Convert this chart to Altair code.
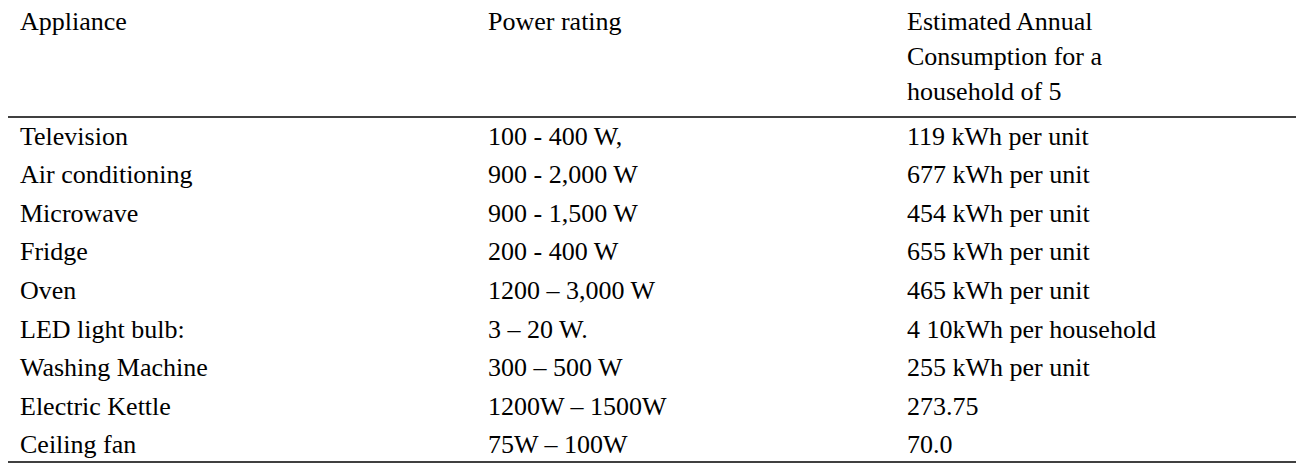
import altair as alt
import pandas as pd

columns = ["Appliance", "Power rating", "Estimated Annual"]
header_extra = [["", "", "Consumption for a"], ["", "", "household of 5"]]

appliances = ["Television", "Air conditioning", "Microwave", "Fridge", "Oven",
              "LED light bulb:", "Washing Machine", "Electric Kettle", "Ceiling fan"]
power = ["100 - 400 W,", "900 - 2,000 W", "900 - 1,500 W", "200 - 400 W",
         "1200 \u2013 3,000 W", "3 \u2013 20 W.", "300 \u2013 500 W",
         "1200W \u2013 1500W", "75W \u2013 100W"]
consumption = ["119 kWh per unit", "677 kWh per unit", "454 kWh per unit",
               "655 kWh per unit", "465 kWh per unit", "4 10kWh per household",
               "255 kWh per unit", "273.75", "70.0"]

rows = []
header_lines = [columns] + header_extra
for i, line in enumerate(header_lines):
    for c, t in enumerate(line):
        if t:
            rows.append({"col": c, "pos": -2.99 + i * 0.91, "text": t})
for r, vals in enumerate(zip(appliances, power, consumption)):
    for c, t in enumerate(vals):
        rows.append({"col": c, "pos": r, "text": t})
df = pd.DataFrame(rows)

W, H = 1288, 458
yscale = alt.Scale(domain=[-3.35, 8.545], range=[0, H])
# piecewise linear: one stop per column's left edge
xscale = alt.Scale(domain=[0, 1, 2], range=[12, 480, 899])

text = alt.Chart(df).mark_text(
    align="left", baseline="middle", font="Liberation Serif", fontSize=26, color="#000"
).encode(
    x=alt.X("col:Q", scale=xscale, axis=None),
    y=alt.Y("pos:Q", scale=yscale, axis=None),
    text="text:N",
)

lines = alt.Chart(pd.DataFrame({"pos": [-0.52, 8.44]})).mark_rule(
    color="#000", strokeWidth=1.5
).encode(
    x=alt.value(0), x2=alt.value(W),
    y=alt.Y("pos:Q", scale=yscale, axis=None),
)

chart = (alt.layer(lines, text)
         .properties(width=W, height=H, padding=0, autosize="none", background="white")
         .configure_view(strokeWidth=0))
chart.save("out.html", embed_options={"renderer": "svg", "actions": False})
